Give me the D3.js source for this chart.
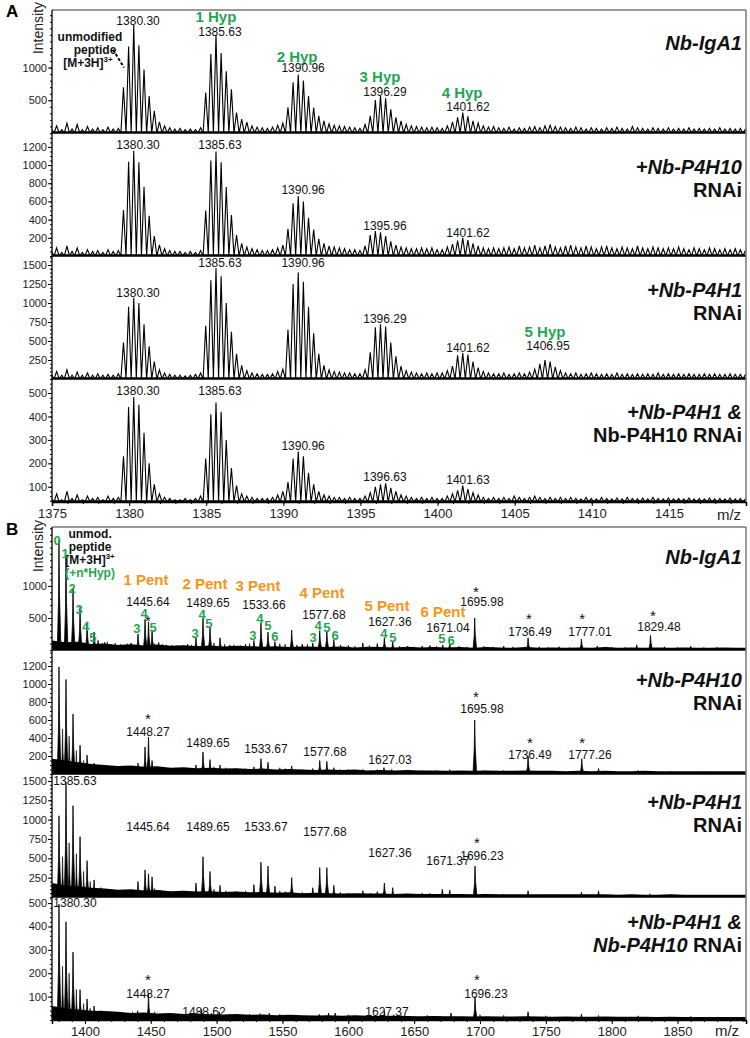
<!DOCTYPE html>
<html><head><meta charset="utf-8">
<script src="https://cdn.jsdelivr.net/npm/d3@7"></script>
<style>
body{margin:0;background:#fff}
svg{display:block}
text{font-family:"Liberation Sans",Arial,sans-serif}
</style>
</head><body>
<svg id="c" width="750" height="1038"></svg>
<script>
// ===================== DATA =====================
// Panel A: isotope-resolved spectra, intensities at successive isotope positions (charge 3+, step 1/3 m/z)
const mzStartA = 1374.967;
const mzStepA = 0.33333;
const intA1 = [60,110,50,150,60,130,50,100,60,80,50,90,60,70,
 700,1320,1650,1340,970,565,340,170,110,80,60,
 70,50,60,50,80,
 617,1208,1500,1223,944,667,314,212,167,110,90,80,70,
 90,120,150,
 394,777,894,803,565,389,262,186,140,120,110,100,90,80,70,
 130,
 262,505,565,530,364,238,186,130,110,100,90,80,90,80,
 70,110,
 171,238,314,253,186,152,110,90,100,
 80,70,90,60,80,70,90,100,80,110,120,100,90,80,70,90,80,60,80,70,60,80,70,90,70,60,100,80,70,60,80,70,60,80,60,70,60,80,60,70,60,70,60,80,60,70,60,70,60];
const intA2 = [50,90,40,110,50,90,40,70,50,60,40,70,50,60,
 505,1036,1157,1030,762,443,220,121,80,60,50,
 50,40,50,40,60,
 500,1050,1150,1030,760,450,230,140,100,80,70,60,60,
 70,90,120,
 300,580,660,600,420,290,190,140,110,100,90,80,70,70,60,
 110,
 230,275,260,220,160,120,100,90,80,80,90,80,90,70,
 70,100,
 130,170,200,175,140,110,90,80,90,
 80,90,100,80,110,90,100,120,90,110,130,100,90,110,120,100,90,110,100,80,100,110,90,80,100,90,80,110,90,80,100,90,80,90,80,100,80,70,90,80,70,90,80,70,80,70,80,70,60];
const intA3 = [60,100,50,120,50,90,50,80,50,70,50,60,50,70,
 480,950,1070,1000,720,430,230,120,80,60,50,
 50,40,50,60,80,
 700,1300,1460,1350,1000,620,330,180,110,80,70,60,60,
 70,100,130,
 650,1250,1400,1280,950,600,330,180,120,100,90,80,80,70,70,
 120,
 350,680,720,690,480,300,170,110,90,80,70,80,70,80,
 80,110,
 170,310,340,320,230,150,100,80,70,
 70,80,60,70,80,70,90,130,200,250,230,160,110,80,70,80,60,70,80,70,60,70,60,80,60,70,60,70,60,70,60,80,60,70,60,70,60,70,60,60,70,60,70,60,60,70,60,60,60];
const intA4 = [50,70,45,80,50,65,45,60,50,55,45,60,50,55,
 230,440,483,450,330,200,110,70,55,50,45,
 45,50,45,50,60,
 220,410,460,420,300,180,105,70,60,55,50,50,50,
 55,65,80,
 120,220,250,230,160,110,80,65,60,55,55,50,55,50,50,
 60,
 75,100,110,115,95,80,65,60,55,50,55,50,55,50,
 50,60,
 70,85,105,90,75,65,55,50,55,
 50,55,50,60,55,50,55,60,55,50,55,50,55,50,55,50,48,55,50,48,55,50,48,52,48,55,50,48,52,48,55,50,48,52,48,50,48,52,48,50,48,52,48,50,48,52,48,50,48];

// Panel B: main peaks [m/z, intensity] per spectrum
const peaksB1 = [[1380.3,1720],[1385.63,1480],[1390.96,970],[1396.29,670],[1401.62,440],[1406.95,280],
 [1410,150],[1415,120],[1420,90],[1425,80],[1430,70],[1435,110],
 [1440.3,250],[1445.64,480],[1448.27,440],[1450.97,310],[1456,120],[1462,80],[1470,70],[1478,90],
 [1484.3,190],[1489.65,500],[1494.97,360],[1502.6,190],[1510,80],[1518,70],[1522,90],
 [1528.3,150],[1533.66,420],[1538.99,280],[1544.3,130],[1557,310],[1565,90],
 [1573,110],[1578.3,300],[1583.7,300],[1589,160],[1600,70],[1611,110],[1622,100],
 [1627.36,190],[1633.7,130],[1645,60],[1656,60],[1662,70],[1671.7,80],[1677,110],
 [1695.98,500],[1718,60],[1736.49,190],[1745,50],[1760,50],[1777.01,170],[1789,60],
 [1800,40],[1819,80],[1829.48,230],[1840,50],[1860,60],[1880,40]];
const peaksB2 = [[1380.3,1190],[1385.63,1050],[1390.96,667],[1396.29,320],[1401.62,210],[1406.95,120],
 [1412,90],[1420,70],[1440.3,120],[1445.64,300],[1448.27,410],[1450.97,150],[1457,70],
 [1484.3,100],[1489.65,245],[1494.97,160],[1502.6,100],[1528.3,80],[1533.67,170],[1539,130],
 [1557,90],[1573,60],[1578.3,150],[1583.7,140],[1589,70],[1611,50],[1627.03,70],[1633,50],
 [1695.98,600],[1736.49,200],[1777.26,170],[1790,60],[1820,40]];
const peaksB3 = [[1380.3,1050],[1385.63,1480],[1390.96,1180],[1396.29,780],[1401.62,470],[1406.95,220],
 [1412,120],[1420,80],[1440.3,200],[1445.64,350],[1448.27,300],[1450.97,260],[1457,90],
 [1484.3,180],[1489.65,520],[1494.97,330],[1502.6,150],[1528.3,160],[1533.67,450],[1539,400],
 [1544.3,140],[1557,250],[1573,120],[1578.3,380],[1583.7,380],[1589,150],[1611,80],[1622,70],
 [1627.36,180],[1633.7,120],[1656,50],[1671.37,100],[1677,90],[1696.23,400],[1736.49,80],
 [1777,60],[1790,80],[1829,40]];
const peaksB4 = [[1380.3,495],[1385.63,420],[1390.96,290],[1396.29,130],[1401.62,90],[1406.95,60],
 [1440,40],[1448.27,110],[1488.62,45],[1502,35],[1540,30],[1585,30],[1590,30],
 [1627.37,40],[1678,30],[1696.23,100],[1736.49,35],[1777,25]];

// Panel B: small baseline spikes [m/z, intensity]
const minorB1 = [[1413,100],[1417,130],[1423,110],[1427,90],[1432,100],[1438,80],[1453,100],[1459,90],[1466,80],[1474,70],
 [1481,80],[1498,110],[1506,90],[1513,80],[1525,100],[1548,100],[1552,90],[1561,80],[1569,90],[1594,80],[1605,60],
 [1616,70],[1639,60],[1650,50],[1667,60],[1684,60],[1690,50],[1703,60],[1710,50],[1725,50],[1752,40],[1768,40],
 [1796,50],[1810,40],[1850,40],[1870,40],[1890,30]];
const minorB2 = [[1383,500],[1388,420],[1393.5,260],[1399,150],[1404,110],[1416,80],[1424,70],[1432,60],[1436,70],[1453,80],
 [1462,60],[1470,50],[1478,60],[1498,80],[1507,70],[1515,60],[1522,60],[1548,70],[1552,60],[1565,50],[1594,50],
 [1600,50],[1617,40],[1622,50],[1645,40],[1656,40],[1667,40],[1677,50],[1703,40],[1718,40],[1752,30],[1760,30],
 [1800,30],[1845,30],[1870,30]];
const minorB3 = [[1383,520],[1388,700],[1393.5,560],[1399,330],[1404,200],[1416,90],[1424,80],[1432,70],[1436,90],[1453,110],
 [1462,70],[1470,60],[1478,70],[1498,100],[1507,80],[1515,70],[1522,80],[1548,80],[1552,70],[1565,60],[1594,60],
 [1600,50],[1617,50],[1645,40],[1662,50],[1684,40],[1703,40],[1718,40],[1752,30],[1760,30],[1800,30],[1845,30]];
const minorB4 = [[1383,230],[1388,200],[1393.5,130],[1399,70],[1404,50],[1412,40],[1420,35],[1430,30],[1436,35],[1453,35],
 [1462,28],[1470,25],[1480,28],[1496,30],[1510,25],[1525,25],[1533,28],[1548,25],[1560,22],[1578,25],[1600,22],
 [1617,22],[1640,20],[1660,20],[1700,22],[1718,20],[1750,18],[1790,20],[1820,18],[1860,16]];

// Panel B baseline noise envelope, every 10 m/z from 1375
const noiseStartB = 1375, noiseStepB = 10;
const noiseB1 = [150,120,130,95,100,80,90,70,85,65,75,60,70,55,65,60,50,60,45,55,50,45,55,40,50,45,40,50,40,45,40,45,35,45,40,35,45,35,40,35,40,35,45,35,40,35,40,35,40,35,35,40,35,35];
const noiseB2 = [170,150,130,110,100,90,95,80,85,70,75,65,70,60,65,55,60,50,55,50,45,50,45,50,40,45,40,45,40,40,35,40,35,40,35,35,40,35,35,30,35,30,35,30,30,35,30,30,30,30,30,30,30,30];
const noiseB3 = [180,150,140,120,110,95,100,85,90,75,80,70,75,65,70,60,65,55,60,50,55,50,45,50,45,45,40,45,40,40,40,40,35,40,35,35,35,35,35,35,35,35,35,30,35,30,30,35,30,30,30,30,30,30];
const noiseB4 = [60,50,45,40,38,35,30,32,28,30,26,28,25,24,26,22,24,20,22,20,19,20,18,20,18,17,18,17,16,17,16,16,15,16,15,15,16,15,14,15,14,14,15,14,14,14,13,14,13,13,13,13,13,13];

// Tick labels
const xTicksA = [1375,1380,1385,1390,1395,1400,1405,1410,1415];
const xTicksB = [1400,1450,1500,1550,1600,1650,1700,1750,1800,1850];
const yTicks1 = [500,1000];
const yTicks2 = [200,400,600,800,1000,1200];
const yTicks3 = [250,500,750,1000,1250,1500];
const yTicks4 = [100,200,300,400,500];

// Annotations: [text, m/z, intensity level of text baseline, kind]
const annA1 = [["1380.30",1380.58,1650,"num"],["1 Hyp",1385.63,1698,"hyp"],["1385.63",1385.89,1486,"num"],
 ["2 Hyp",1390.89,1092,"hyp"],["1390.96",1391.28,925,"num"],["3 Hyp",1396.27,773,"hyp"],["1396.29",1396.59,561,"num"],
 ["4 Hyp",1401.59,531,"hyp"],["1401.62",1401.97,334,"num"],
 ["unmodified",1377.46,1410,"bold"],["peptide",1377.79,1200,"bold"],["[M+3H]",1377.33,1016,"ion"]];
const annA2 = [["1380.30",1380.58,1177,"num"],["1385.63",1385.89,1177,"num"],["1390.96",1391.28,682,"num"],
 ["1395.96",1396.59,286,"num"],["1401.62",1401.97,209,"num"]];
const annA3 = [["1385.63",1385.89,1473,"num"],["1380.30",1380.58,1079,"num"],["1390.96",1391.28,1473,"num"],
 ["1396.29",1396.59,737,"num"],["1401.62",1401.97,355,"num"],["5 Hyp",1406.97,552,"hyp"],["1406.95",1407.16,381,"num"]];
const annA4 = [["1380.30",1380.58,492,"num"],["1385.63",1385.89,492,"num"],["1390.96",1391.28,257,"num"],
 ["1396.63",1396.59,125,"num"],["1401.63",1401.97,112,"num"]];

const annB1 = [["unmod.",1403.9,1748,"bold"],["peptide",1403.9,1545,"bold"],["[M+3H]",1403.9,1342,"ion"],["(+n*Hyp)",1403.9,1140,"hypsm"],
 ["0",1378.8,1639,"dig"],["1",1384.9,1436,"dig"],["2",1390.2,890,"dig"],["3",1395.5,562,"dig"],["4",1400.8,297,"dig"],["5",1406.1,125,"dig"],
 ["1 Pent",1446.4,1015,"pent"],["1445.64",1447.9,687,"num"],["3",1439.5,265,"dig"],["4",1444.9,500,"dig"],["*",1447.9,343,"star"],["5",1451.7,281,"dig"],
 ["2 Pent",1491.2,952,"pent"],["1489.65",1493.5,671,"num"],["3",1483.6,187,"dig"],["4",1488.9,484,"dig"],["5",1494.2,343,"dig"],
 ["3 Pent",1531.4,921,"pent"],["1533.66",1536.0,640,"num"],["3",1527.6,156,"dig"],["4",1532.9,421,"dig"],["5",1539.0,312,"dig"],["6",1544.3,140,"dig"],
 ["4 Pent",1580.0,812,"pent"],["1577.68",1581.5,484,"num"],["3",1573.2,125,"dig"],["4",1577.0,312,"dig"],["5",1583.8,281,"dig"],["6",1589.9,156,"dig"],
 ["5 Pent",1629.4,609,"pent"],["1627.36",1631.7,375,"num"],["4",1627.1,187,"dig"],["5",1633.9,125,"dig"],
 ["6 Pent",1671.9,515,"pent"],["1671.04",1675.7,281,"num"],["5",1671.1,109,"dig"],["6",1678.0,78,"dig"],
 ["*",1697.0,796,"star"],["1695.98",1701.5,687,"num"],["*",1737.2,375,"star"],["1736.49",1738.0,219,"num"],
 ["*",1777.5,375,"star"],["1777.01",1783.5,219,"num"],["*",1831.4,421,"star"],["1829.48",1835.9,297,"num"]];
const annB2 = [["*",1447.9,533,"star"],["1448.27",1447.9,422,"num"],["1489.65",1493.5,300,"num"],["1533.67",1537.5,233,"num"],
 ["1577.68",1582.3,200,"num"],["1627.03",1631.7,111,"num"],["*",1697.0,778,"star"],["1695.98",1701.5,678,"num"],
 ["*",1738.0,267,"star"],["1736.49",1738.0,167,"num"],["*",1777.5,267,"star"],["1777.26",1783.5,167,"num"]];
const annB3 = [["1385.63",1392.5,1450,"num"],["1445.64",1447.9,858,"num"],["1489.65",1493.5,858,"num"],["1533.67",1537.5,858,"num"],
 ["1577.68",1582.3,791,"num"],["1627.36",1631.7,521,"num"],["1671.37",1675.7,418,"num"],["*",1697.7,610,"star"],["1696.23",1701.5,483,"num"]];
const annB4 = [["1380.30",1392.5,483,"num"],["*",1447.9,141,"star"],["1448.27",1447.9,94,"num"],["1488.62",1490.4,17,"num"],
 ["1627.37",1629.4,17,"num"],["*",1697.7,141,"star"],["1696.23",1704.5,94,"num"]];

// ===================== DRAWING =====================
const svg = d3.select("#c");
const L = 52, R = 746;
const GREEN = "#1fa64f", ORANGE = "#f7941d";
const FONT = '"Liberation Sans",Arial,sans-serif';

const xA = d3.scaleLinear().domain([1375, 1420]).range([L, R]);
const xB = d3.scaleLinear().domain([1375, 1902]).range([L, R]);

const styles = {
  num:  {size:12, weight:"normal", fill:"#111"},
  hyp:  {size:15, weight:"bold", fill:GREEN},
  hypsm:{size:12, weight:"bold", fill:GREEN},
  dig:  {size:13, weight:"bold", fill:GREEN},
  pent: {size:15, weight:"bold", fill:ORANGE},
  bold: {size:12, weight:"bold", fill:"#111"},
  ion:  {size:12, weight:"bold", fill:"#111"},
  star: {size:15, weight:"normal", fill:"#111"}
};

function addAnn(g, x, y, list) {
  list.forEach(([t, mz, v, kind]) => {
    const s = styles[kind];
    const tx = g.append("text").attr("x", x(mz)).attr("y", y(v))
      .attr("text-anchor", "middle").attr("font-size", s.size)
      .attr("font-weight", s.weight).attr("fill", s.fill);
    if (kind === "ion") {
      tx.append("tspan").text(t);
      tx.append("tspan").attr("font-size", 8).attr("dy", -5).text("3+");
    } else if (kind === "star") {
      tx.attr("y", y(v) - 2).text(t);
    } else tx.text(t);
  });
}

function yAxis(g, y, ticks, minorStep) {
  const [lo, hi] = y.domain();
  const minor = d3.range(Math.ceil(lo / minorStep) * minorStep, hi, minorStep);
  g.append("g").attr("transform", `translate(${L},0)`)
    .call(d3.axisLeft(y).tickValues(minor).tickSize(2).tickFormat(""))
    .call(a => a.select(".domain").remove());
  const ax = g.append("g").attr("transform", `translate(${L},0)`)
    .call(d3.axisLeft(y).tickValues(ticks).tickSize(4).tickPadding(1).tickFormat(d3.format("d")));
  ax.select(".domain").remove();
  ax.selectAll("text").attr("font-size", 11).attr("font-family", FONT).attr("fill", "#222");
}

function sideLabel(g, yBase, lines) {
  lines.forEach((parts, i) => {
    const t = g.append("text").attr("x", 742).attr("y", yBase + i * 23)
      .attr("text-anchor", "end").attr("font-size", 20).attr("font-weight", "bold").attr("fill", "#111");
    parts.forEach(([s, it]) => t.append("tspan").attr("font-style", it ? "italic" : "normal").text(s));
  });
}

let clipId = 0;
function makeClip(top, bot) {
  const id = "clip" + (clipId++);
  svg.append("clipPath").attr("id", id).append("rect")
    .attr("x", L).attr("y", top - 1).attr("width", R - L).attr("height", bot - top + 1);
  return id;
}

// ---------- Panel A ----------
const subA = [
  {top:10, bot:133, dom:[0,1880], ints:intA1, ticks:yTicks1, minor:100, ann:annA1,
   label:[[["Nb-IgA1",true]]], lab:50, dash:true},
  {top:133, bot:256, dom:[0,1353], ints:intA2, ticks:yTicks2, minor:50, ann:annA2,
   label:[[["+Nb-P4H10",true]],[["RNAi",false]]], lab:174},
  {top:256, bot:379, dom:[0,1618], ints:intA3, ticks:yTicks3, minor:50, ann:annA3,
   label:[[["+Nb-P4H1",true]],[["RNAi",false]]], lab:297},
  {top:379, bot:502, dom:[35,560], ints:intA4, ticks:yTicks4, minor:20, ann:annA4,
   label:[[["+Nb-P4H1 &",true]],[["Nb-P4H10 RNAi",false]]], lab:419}
];

subA.forEach(p => {
  const y = d3.scaleLinear().domain(p.dom).range([p.bot, p.top]);
  const g = svg.append("g");
  const base = p.dom[0];
  const pts = [];
  p.ints.forEach((v, k) => {
    const mz = mzStartA + k * mzStepA;
    pts.push([mz - mzStepA / 2, base]);
    pts.push([mz, v]);
  });
  pts.push([mzStartA + p.ints.length * mzStepA - mzStepA / 2, base]);
  const cid = makeClip(p.top, p.bot);
  g.append("path").attr("clip-path", `url(#${cid})`)
    .attr("d", d3.line().x(d => xA(d[0])).y(d => y(d[1]))(pts))
    .attr("fill", "none").attr("stroke", "#000").attr("stroke-width", 1.1).attr("stroke-linejoin", "miter");
  g.append("line").attr("x1", L).attr("x2", R).attr("y1", p.bot - 0.5).attr("y2", p.bot - 0.5)
    .attr("stroke", "#000").attr("stroke-width", 2.5);
  yAxis(g, y, p.ticks, p.minor);
  addAnn(g, xA, y, p.ann);
  sideLabel(g, p.lab, p.label);
  if (p.dash) {
    g.append("line").attr("x1", xA(1378.96)).attr("y1", y(1274)).attr("x2", xA(1379.67)).attr("y2", y(1001))
      .attr("stroke", "#000").attr("stroke-width", 2).attr("stroke-dasharray", "3,2");
  }
});

// Panel A frame & x-axis
svg.append("line").attr("x1", L).attr("x2", R).attr("y1", 10).attr("y2", 10).attr("stroke", "#777").attr("stroke-width", 1.5);
svg.append("line").attr("x1", R).attr("x2", R).attr("y1", 10).attr("y2", 502).attr("stroke", "#777").attr("stroke-width", 1.5);
svg.append("line").attr("x1", L).attr("x2", L).attr("y1", 10).attr("y2", 502).attr("stroke", "#000").attr("stroke-width", 1.3);
{
  const gx = svg.append("g").attr("transform", "translate(0,502)");
  gx.append("g").call(d3.axisBottom(xA).tickValues(d3.range(1376, 1420, 1)).tickSize(2).tickFormat("")).call(a => a.select(".domain").remove());
  const ax = gx.append("g").call(d3.axisBottom(xA).tickValues(xTicksA).tickSize(4).tickFormat(d3.format("d")));
  ax.select(".domain").attr("stroke-width", 1.5);
  ax.selectAll("text").attr("font-size", 13).attr("font-family", FONT).attr("fill", "#222");
  svg.append("text").attr("x", 729).attr("y", 520).attr("text-anchor", "middle").attr("font-size", 15).attr("fill", "#222").text("m/z");
}
svg.append("text").attr("x", 6).attr("y", 17).attr("font-size", 17).attr("font-weight", "bold").text("A");
svg.append("text").attr("transform", "translate(43,28) rotate(-90)").attr("text-anchor", "middle").attr("font-size", 14).attr("fill", "#222").text("Intensity");

// ---------- Panel B ----------
const subB = [
  {top:527, bot:650, dom:[0,1920], peaks:peaksB1, minor:minorB1, noise:noiseB1, ticks:yTicks1, mstep:100, ann:annB1,
   label:[[["Nb-IgA1",true]]], lab:564},
  {top:650, bot:774, dom:[0,1378], peaks:peaksB2, minor:minorB2, noise:noiseB2, ticks:yTicks2, mstep:50, ann:annB2,
   label:[[["+Nb-P4H10",true]],[["RNAi",false]]], lab:687},
  {top:774, bot:897, dom:[0,1590], peaks:peaksB3, minor:minorB3, noise:noiseB3, ticks:yTicks3, mstep:50, ann:annB3,
   label:[[["+Nb-P4H1",true]],[["RNAi",false]]], lab:809},
  {top:897, bot:1020, dom:[0,526], peaks:peaksB4, minor:minorB4, noise:noiseB4, ticks:yTicks4, mstep:20, ann:annB4,
   label:[[["+Nb-P4H1 &",true]],[["Nb-P4H10",true],[" RNAi",false]]], lab:929}
];

subB.forEach(p => {
  const y = d3.scaleLinear().domain(p.dom).range([p.bot, p.top]);
  const g = svg.append("g");
  const cid = makeClip(p.top, p.bot);
  const gc = g.append("g").attr("clip-path", `url(#${cid})`);
  const base = p.dom[0];
  gc.append("path")
    .attr("d", d3.area().x((d, i) => xB(noiseStartB + i * noiseStepB)).y0(y(base)).y1(d => y(d))(p.noise))
    .attr("fill", "#000");
  const line = d3.line().x(d => xB(d[0])).y(d => y(d[1]));
  const spike = (mz, v, w) => [[mz - 1.3 * w, base], [mz - 0.35 * w, base + (v - base) * 0.45], [mz, v],
                  [mz + 0.4 * w, base + (v - base) * 0.5], [mz + 1.5 * w, base]];
  p.minor.forEach(([mz, v]) => {
    gc.append("path").attr("d", line(spike(mz, v, 0.8)) + "Z").attr("fill", "#000").attr("stroke", "#000").attr("stroke-width", 0.6);
  });
  p.peaks.forEach(([mz, v]) => {
    gc.append("path").attr("d", line(spike(mz, v, 1)) + "Z").attr("fill", "#000").attr("stroke", "#000").attr("stroke-width", 0.8);
  });
  g.append("line").attr("x1", L).attr("x2", R).attr("y1", p.bot - 0.5).attr("y2", p.bot - 0.5)
    .attr("stroke", "#000").attr("stroke-width", 2.5);
  yAxis(g, y, p.ticks, p.mstep);
  addAnn(g, xB, y, p.ann);
  sideLabel(g, p.lab, p.label);
});

svg.append("line").attr("x1", L).attr("x2", R).attr("y1", 527).attr("y2", 527).attr("stroke", "#777").attr("stroke-width", 1.5);
svg.append("line").attr("x1", R).attr("x2", R).attr("y1", 527).attr("y2", 1020).attr("stroke", "#777").attr("stroke-width", 1.5);
svg.append("line").attr("x1", L).attr("x2", L).attr("y1", 527).attr("y2", 1020).attr("stroke", "#000").attr("stroke-width", 1.3);
{
  const gx = svg.append("g").attr("transform", "translate(0,1020)");
  gx.append("g").call(d3.axisBottom(xB).tickValues(d3.range(1380, 1902, 10)).tickSize(2).tickFormat("")).call(a => a.select(".domain").remove());
  const ax = gx.append("g").call(d3.axisBottom(xB).tickValues(xTicksB).tickSize(4).tickFormat(d3.format("d")));
  ax.select(".domain").attr("stroke-width", 1.5);
  ax.selectAll("text").attr("font-size", 13).attr("font-family", FONT).attr("fill", "#222");
  svg.append("text").attr("x", 727).attr("y", 1036).attr("text-anchor", "middle").attr("font-size", 15).attr("fill", "#222").text("m/z");
}
svg.append("text").attr("x", 6).attr("y", 535).attr("font-size", 17).attr("font-weight", "bold").text("B");
svg.append("text").attr("transform", "translate(43,546) rotate(-90)").attr("text-anchor", "middle").attr("font-size", 14).attr("fill", "#222").text("Intensity");
</script>
</body></html>
